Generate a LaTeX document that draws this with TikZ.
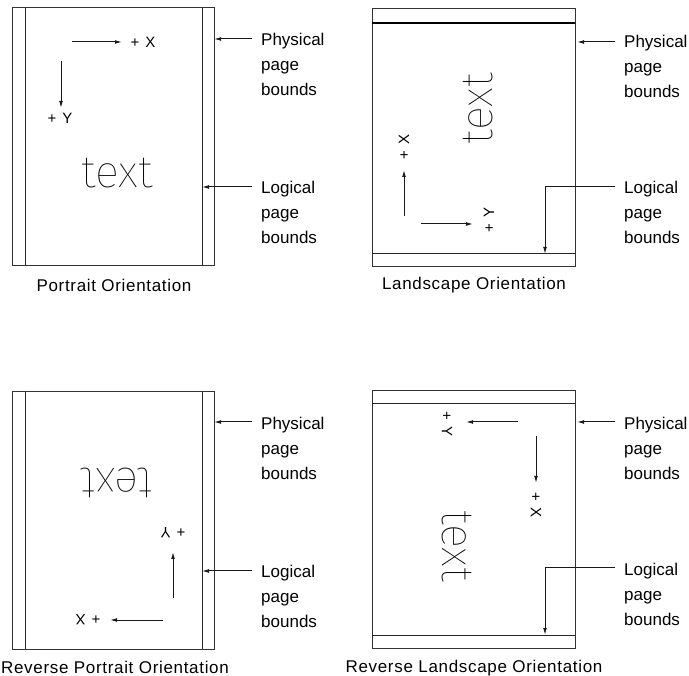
\documentclass[tikz,border=0pt]{standalone}
\usepackage{fontspec}
\setmainfont{Liberation Sans}
% thin face for the large sample word; first light face found wins
\IfFontExistsTF{FiraSans-Thin.ttf}{\newfontfamily\thinfont{FiraSans-Thin.ttf}}{%
 \IfFontExistsTF{Lato-Hairline.ttf}{\newfontfamily\thinfont{Lato-Hairline.ttf}}{%
  \IfFontExistsTF{DejaVuSans-ExtraLight.ttf}{\newfontfamily\thinfont{DejaVuSans-ExtraLight.ttf}}{%
   \IfFontExistsTF{Lato-Light.ttf}{\newfontfamily\thinfont{Lato-Light.ttf}}{%
    \newfontfamily\thinfont{Liberation Sans}}}}}
\usetikzlibrary{arrows.meta}

\begin{document}
\begin{tikzpicture}[x=1pt,y=-1pt,
  frame/.style={draw=black!80, line width=1pt},
  bound/.style={draw=black!85, line width=1pt},
  heavybound/.style={draw=black, line width=2pt},
  arr/.style={draw=black!90, line width=1pt, -{Latex[length=7pt,width=3.8pt]}},
  note/.style={font=\fontsize{17}{25}\selectfont, align=left, anchor=west, inner sep=0pt},
  orient/.style={font=\fontsize{17}{20}\selectfont\addfontfeature{LetterSpace=4}, inner sep=0pt},
  axis/.style={font=\fontsize{15}{17}\selectfont, inner sep=0pt},
  big/.style={font=\thinfont\fontsize{45}{50}\selectfont, inner sep=0pt},
]
\newcommand\plusaxis[1]{+\hspace{6pt}#1}
\useasboundingbox (0,0) rectangle (689,676);

% ---------- Portrait ----------
\draw[frame] (12,8) rectangle (214,266);
\draw[bound] (25,8) -- (25,266);
\draw[bound] (202,8) -- (202,266);
\node[axis] (ptx) at (143,42) {\plusaxis{X}};
\node[axis] (pty) at (60,118) {\plusaxis{Y}};
\coordinate (ptxs) at (72,42);  \coordinate (ptxe) at (122,42);
\coordinate (ptys) at (61,61);  \coordinate (ptye) at (61,108);
\draw[arr] (ptxs) -- (ptxe);
\draw[arr] (ptys) -- (ptye);
\node[big] (pttext) at (117,173) {text};
\node[note] (ptphys) at (261,64) {Physical\\page\\bounds};
\node[note] (ptlog) at (261,212) {Logical\\page\\bounds};
\coordinate (ptphysa) at (252,39);  \coordinate (ptphysb) at (214,39);
\coordinate (ptloga) at (252,187);  \coordinate (ptlogb) at (202,187);
\draw[arr] (ptphysa) -- (ptphysb);
\draw[arr] (ptloga) -- (ptlogb);
\node[orient] (ptcap) at (114,285) {Portrait Orientation};

% ---------- Landscape ----------
\draw[frame] (372,9) rectangle (575,267);
\draw[heavybound] (372,23) -- (575,23);
\draw[bound] (372,254) -- (575,254);
\node[axis, rotate=90] (lsx) at (404,147) {\plusaxis{X}};
\node[axis, rotate=90] (lsy) at (489,220) {\plusaxis{Y}};
\coordinate (lsxs) at (404,216); \coordinate (lsxe) at (404,170);
\coordinate (lsys) at (421,224); \coordinate (lsye) at (473,224);
\draw[arr] (lsxs) -- (lsxe);
\draw[arr] (lsys) -- (lsye);
\node[big, rotate=90] (lstext) at (478,109) {text};
\node[note] (lsphys) at (624,66) {Physical\\page\\bounds};
\node[note] (lslog) at (624,212) {Logical\\page\\bounds};
\coordinate (lsphysa) at (615,42);  \coordinate (lsphysb) at (577,42);
\coordinate (lsloga) at (615,187);  \coordinate (lslogb) at (545,254);
\draw[arr] (lsphysa) -- (lsphysb);
\draw[arr] (lsloga) -| (lslogb);
\node[orient] (lscap) at (474,285) {Landscape Orientation};

% ---------- Reverse portrait ----------
\draw[frame] (12,392) rectangle (214,649);
\draw[bound] (25,392) -- (25,649);
\draw[bound] (202,392) -- (202,649);
\node[axis, rotate=180] (rpx) at (88,620) {\plusaxis{X}};
\node[axis, rotate=180] (rpy) at (173,533) {\plusaxis{Y}};
\coordinate (rpxs) at (163,620); \coordinate (rpxe) at (110,620);
\coordinate (rpys) at (173,598); \coordinate (rpye) at (173,552);
\draw[arr] (rpxs) -- (rpxe);
\draw[arr] (rpys) -- (rpye);
\node[big, rotate=180] (rptext) at (117,483) {text};
\node[note] (rpphys) at (261,448) {Physical\\page\\bounds};
\node[note] (rplog) at (261,596) {Logical\\page\\bounds};
\coordinate (rpphysa) at (252,422); \coordinate (rpphysb) at (214,422);
\coordinate (rploga) at (252,571);  \coordinate (rplogb) at (202,571);
\draw[arr] (rpphysa) -- (rpphysb);
\draw[arr] (rploga) -- (rplogb);
\node[orient] (rpcap) at (115,667) {Reverse Portrait Orientation};

% ---------- Reverse landscape ----------
\draw[frame] (372,391) rectangle (575,648);
\draw[bound] (372,404) -- (575,404);
\draw[bound] (372,635) -- (575,635);
\node[axis, rotate=-90] (rlx) at (536,505) {\plusaxis{X}};
\node[axis, rotate=-90] (rly) at (447,424) {\plusaxis{Y}};
\coordinate (rlxs) at (536,436); \coordinate (rlxe) at (536,483);
\coordinate (rlys) at (518,422); \coordinate (rlye) at (466,422);
\draw[arr] (rlxs) -- (rlxe);
\draw[arr] (rlys) -- (rlye);
\node[big, rotate=-90] (rltext) at (457,546) {text};
\node[note] (rlphys) at (624,448) {Physical\\page\\bounds};
\node[note] (rllog) at (624,594) {Logical\\page\\bounds};
\coordinate (rlphysa) at (615,422); \coordinate (rlphysb) at (577,422);
\coordinate (rlloga) at (615,568);  \coordinate (rllogb) at (545,635);
\draw[arr] (rlphysa) -- (rlphysb);
\draw[arr] (rlloga) -| (rllogb);
\node[orient] (rlcap) at (474,668) {Reverse Landscape Orientation};
\end{tikzpicture}
\end{document}
